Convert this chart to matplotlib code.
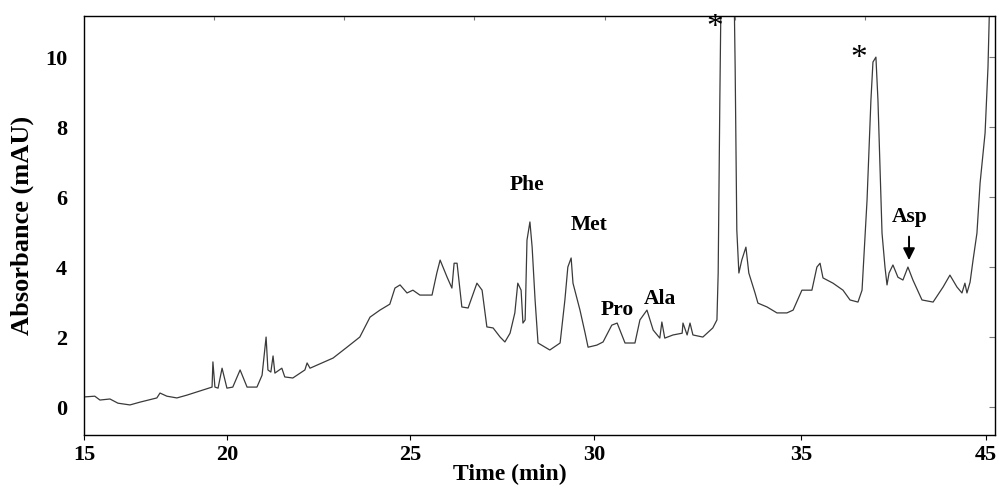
import numpy as np
import matplotlib
matplotlib.use('Agg')
from matplotlib import pyplot as plt

# chromatogram trace (time in min, absorbance in mAU)
time_min = [15.03, 15.38, 15.56, 15.91, 16.19, 16.61, 16.96, 17.55, 17.66, 17.90,
            18.25, 18.60, 19.06, 19.48, 19.51, 19.58, 19.69, 19.83, 20.00, 20.16,
            20.36, 20.55, 20.82, 20.96, 21.07, 21.12, 21.20, 21.26, 21.31, 21.50,
            21.58, 21.80, 22.13, 22.19, 22.27, 22.90, 23.28, 23.63, 23.91, 24.18,
            24.45, 24.59, 24.73, 24.92, 25.08, 25.27, 25.60, 25.73, 25.82, 26.01,
            26.14, 26.20, 26.28, 26.41, 26.58, 26.82, 26.96, 27.09, 27.26, 27.45,
            27.58, 27.72, 27.85, 27.93, 28.02, 28.07, 28.13, 28.18, 28.26, 28.32,
            28.40, 28.48, 28.80, 29.08, 29.21, 29.29, 29.38, 29.43, 29.62, 29.76,
            29.84, 30.07, 30.22, 30.43, 30.56, 30.75, 30.99, 31.11, 31.28, 31.43,
            31.59, 31.64, 31.71, 31.91, 32.13, 32.15, 32.25, 32.32, 32.39, 32.63,
            32.87, 32.97, 33.00, 33.04, 33.09, 33.36, 33.41, 33.45, 33.50, 33.57,
            33.67, 33.74, 33.89, 33.96, 34.18, 34.42, 34.66, 34.81, 35.05, 35.59,
            35.86, 36.03, 36.19, 36.73, 37.27, 37.65, 38.08, 38.30, 38.57, 38.78,
            38.89, 39.05, 39.16, 39.38, 39.54, 39.65, 39.76, 39.97, 40.24, 40.51,
            40.78, 41.05, 41.54, 42.14, 42.68, 43.05, 43.43, 43.70, 43.86, 43.97,
            44.14, 44.30, 44.51, 44.68, 44.95, 45.11, 45.32]
absorb = [0.29, 0.31, 0.20, 0.23, 0.11, 0.06, 0.14, 0.26, 0.40, 0.31,
          0.26, 0.34, 0.46, 0.57, 1.29, 0.57, 0.54, 1.11, 0.54, 0.57,
          1.06, 0.57, 0.57, 0.91, 2.00, 1.06, 1.00, 1.46, 0.97, 1.11,
          0.86, 0.83, 1.06, 1.26, 1.11, 1.40, 1.71, 2.00, 2.57, 2.77,
          2.94, 3.40, 3.49, 3.26, 3.34, 3.20, 3.20, 3.83, 4.20, 3.71,
          3.40, 4.11, 4.11, 2.86, 2.83, 3.54, 3.34, 2.29, 2.26, 2.00,
          1.86, 2.11, 2.69, 3.54, 3.34, 2.40, 2.49, 4.77, 5.29, 4.57,
          3.06, 1.83, 1.63, 1.83, 3.06, 4.00, 4.26, 3.54, 2.77, 2.11,
          1.71, 1.77, 1.86, 2.34, 2.40, 1.83, 1.83, 2.49, 2.77, 2.20,
          1.97, 2.43, 1.97, 2.06, 2.11, 2.40, 2.06, 2.40, 2.06, 2.00,
          2.26, 2.49, 3.83, 8.77, 14.0, 14.0, 9.71, 5.06, 3.83, 4.20,
          4.57, 3.83, 3.26, 2.97, 2.86, 2.69, 2.69, 2.77, 3.34, 3.34,
          4.00, 4.11, 3.69, 3.54, 3.34, 3.06, 3.00, 3.34, 5.91, 8.77,
          9.86, 10.00, 8.77, 4.97, 4.00, 3.49, 3.83, 4.06, 3.71, 3.63,
          4.00, 3.63, 3.06, 3.00, 3.43, 3.77, 3.43, 3.26, 3.54, 3.26,
          3.57, 4.20, 4.97, 6.40, 7.83, 9.71, 14.0]

peak_names = ['Phe', 'Met', 'Pro', 'Ala']
peak_x = [28.18, 29.86, 30.56, 31.59]
peak_y = [6.34, 5.20, 2.77, 3.09]
star_x = [32.92, 38.14]
star_y = [10.85, 9.94]

x_ticks = [15, 20, 25, 30, 35, 45]
y_ticks = [0, 2, 4, 6, 8, 10]

# the printed time axis is not evenly spaced, so map it piecewise
scale_min = [15, 20, 25, 30, 35, 45, 45.5]
scale_pos = [0, 143, 326, 510, 717, 902, 911]


def fwd(t):
    return np.interp(t, scale_min, scale_pos)


def inv(p):
    return np.interp(p, scale_pos, scale_min)


plt.rcParams['font.family'] = ['Liberation Serif', 'DejaVu Serif']

fig = plt.figure(figsize=(9.99, 4.91), dpi=100)
ax = fig.add_axes([0.084, 0.114, 0.912, 0.853])
ax.set_xscale('function', functions=(fwd, inv))

ax.plot(time_min, absorb, color='#3a3a3a', lw=0.9)

ax.set_xlim(15, 45.5)
ax.set_ylim(-0.8, 11.17)
ax.set_xticks(x_ticks)
ax.set_yticks(y_ticks)
ax.tick_params(axis='x', bottom=False, labelsize=16, pad=4)
ax.tick_params(axis='y', left=False, right=True, direction='in', length=4,
               color='#777777', labelsize=16, pad=12)
for lab in ax.get_xticklabels() + ax.get_yticklabels():
    lab.set_fontweight('bold')
for sp in ax.spines.values():
    sp.set_color('#333333')
    sp.set_linewidth(1.0)

ax.set_xlabel('Time (min)', fontsize=17, fontweight='bold', labelpad=-1, x=0.468)
ax.set_ylabel('Absorbance (mAU)', fontsize=19, fontweight='bold', labelpad=8)

# faint evenly spaced marks along the top frame
top = ax.twiny()
top.set_xlim(0, 7)
top.set_xticks(range(1, 7))
top.tick_params(axis='x', top=True, direction='in', length=3, color='#777777',
                labeltop=False)

for name, x, y in zip(peak_names, peak_x, peak_y):
    ax.text(x, y, name, ha='center', va='center', fontsize=15.5, fontweight='bold')
for x, y in zip(star_x, star_y):
    ax.text(x, y, '*', ha='center', va='center', fontsize=24)

ax.annotate('Asp', xy=(40.84, 4.14), xytext=(40.89, 5.43), ha='center', va='center',
            fontsize=15.5, fontweight='bold')
ax.annotate('', xy=(40.84, 4.12), xytext=(40.84, 4.95),
            arrowprops=dict(arrowstyle='-|>,head_width=0.35,head_length=0.7',
                            color='black', lw=1.4))

fig.savefig('out.png', dpi=100)
